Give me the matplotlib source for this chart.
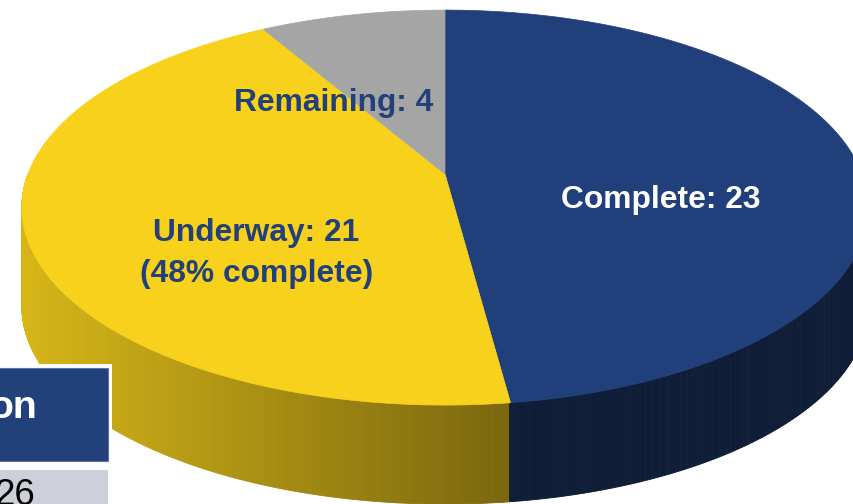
import numpy as np
import matplotlib
matplotlib.use("Agg")
import matplotlib.pyplot as plt
from matplotlib import font_manager
from matplotlib.patches import Polygon, Rectangle
from matplotlib.collections import PolyCollection
from matplotlib.colors import to_rgb

# data
labels = ["Complete", "Underway", "Remaining"]
values = [23, 21, 4]
underway_pct = 48
table_header = "on"
table_value = "26"

top_colors = ["#21407B", "#F7D11B", "#A5A5A5"]
text_colors = ["white", "#22407A", "#22407A"]

# layout of the tilted pie (pixels)
CX, CY = 445, 174      # apex
SX, SY = 417, 191.8    # radii
K = 0.17               # perspective
DEPTH = 99

installed = {f.name for f in font_manager.fontManager.ttflist}
if "Liberation Sans Narrow" in installed:
    FONT, SCALE = "Liberation Sans Narrow", 1.0
else:
    FONT, SCALE = "Liberation Sans", 0.88


def rim(theta, r=1.0):
    u = r * np.cos(theta)
    v = r * np.sin(theta)
    d = 1 + K * v
    return CX + SX * u / d, CY - SY * v / d


def wedge_of(theta):
    # clockwise angle from 12 o'clock, in degrees
    a = (90 - np.degrees(theta)) % 360
    edges = np.cumsum(values) / sum(values) * 360
    return int(np.searchsorted(edges, a, side="right"))


fig = plt.figure(figsize=(8.54, 5.04), dpi=100)
ax = fig.add_axes([0, 0, 1, 1])
ax.set_xlim(0, 854)
ax.set_ylim(504, 0)
ax.axis("off")

# side of the cylinder
th = np.linspace(np.pi, 2 * np.pi, 500)
quads, cols = [], []
for a, b in zip(th[:-1], th[1:]):
    x1, y1 = rim(a)
    x2, y2 = rim(b)
    quads.append([(x1, y1), (x2, y2), (x2, y2 + DEPTH), (x1, y1 + DEPTH)])
    i = wedge_of((a + b) / 2)
    base = np.array(to_rgb(top_colors[i]))
    if i == 0:
        f = 0.45
    else:
        xm = (x1 + x2) / 2
        f = 0.87 - (0.87 - 0.49) * np.clip((xm - 22) / (512 - 22), 0, 1)
    cols.append(tuple(base * f))
ax.add_collection(PolyCollection(quads, facecolors=cols, edgecolors=cols, linewidths=0.6))

# top faces
start = 90.0
total = sum(values)
for val, col in zip(values, top_colors):
    end = start - val / total * 360
    t = np.radians(np.linspace(start, end, 200))
    xs, ys = rim(t)
    pts = [(CX, CY)] + list(zip(xs, ys))
    ax.add_patch(Polygon(pts, closed=True, facecolor=col, edgecolor=col, linewidth=0.5))
    start = end

# labels
fs = 26 * SCALE
ax.text(661, 208, f"{labels[0]}: {values[0]}", color=text_colors[0], fontsize=fs,
        fontweight="bold", family=FONT, ha="center", va="baseline")
ax.text(256, 241, f"{labels[1]}: {values[1]}", color=text_colors[1], fontsize=fs,
        fontweight="bold", family=FONT, ha="center", va="baseline")
ax.text(257, 282, f"({underway_pct}% complete)", color=text_colors[1], fontsize=fs,
        fontweight="bold", family=FONT, ha="center", va="baseline")
ax.text(334, 111, f"{labels[2]}: {values[2]}", color=text_colors[2], fontsize=fs,
        fontweight="bold", family=FONT, ha="center", va="baseline")

# piece of table in the lower left
ax.add_patch(Rectangle((-5, 364), 117, 150, facecolor="white", edgecolor="none"))
ax.add_patch(Rectangle((-3, 368), 111, 93, facecolor="#22407A", edgecolor="#5C74A8",
                       linewidth=0.8))
ax.add_patch(Rectangle((-3, 470), 111, 40, facecolor="#CDD0D8", edgecolor="none"))
ax.text(37, 418, table_header, color="white", fontsize=32 * SCALE, fontweight="bold",
        family=FONT, ha="right", va="baseline")
ax.text(35, 505, table_value, color="black", fontsize=30 * SCALE, family=FONT,
        ha="right", va="baseline")

fig.savefig("out.png", dpi=100)
